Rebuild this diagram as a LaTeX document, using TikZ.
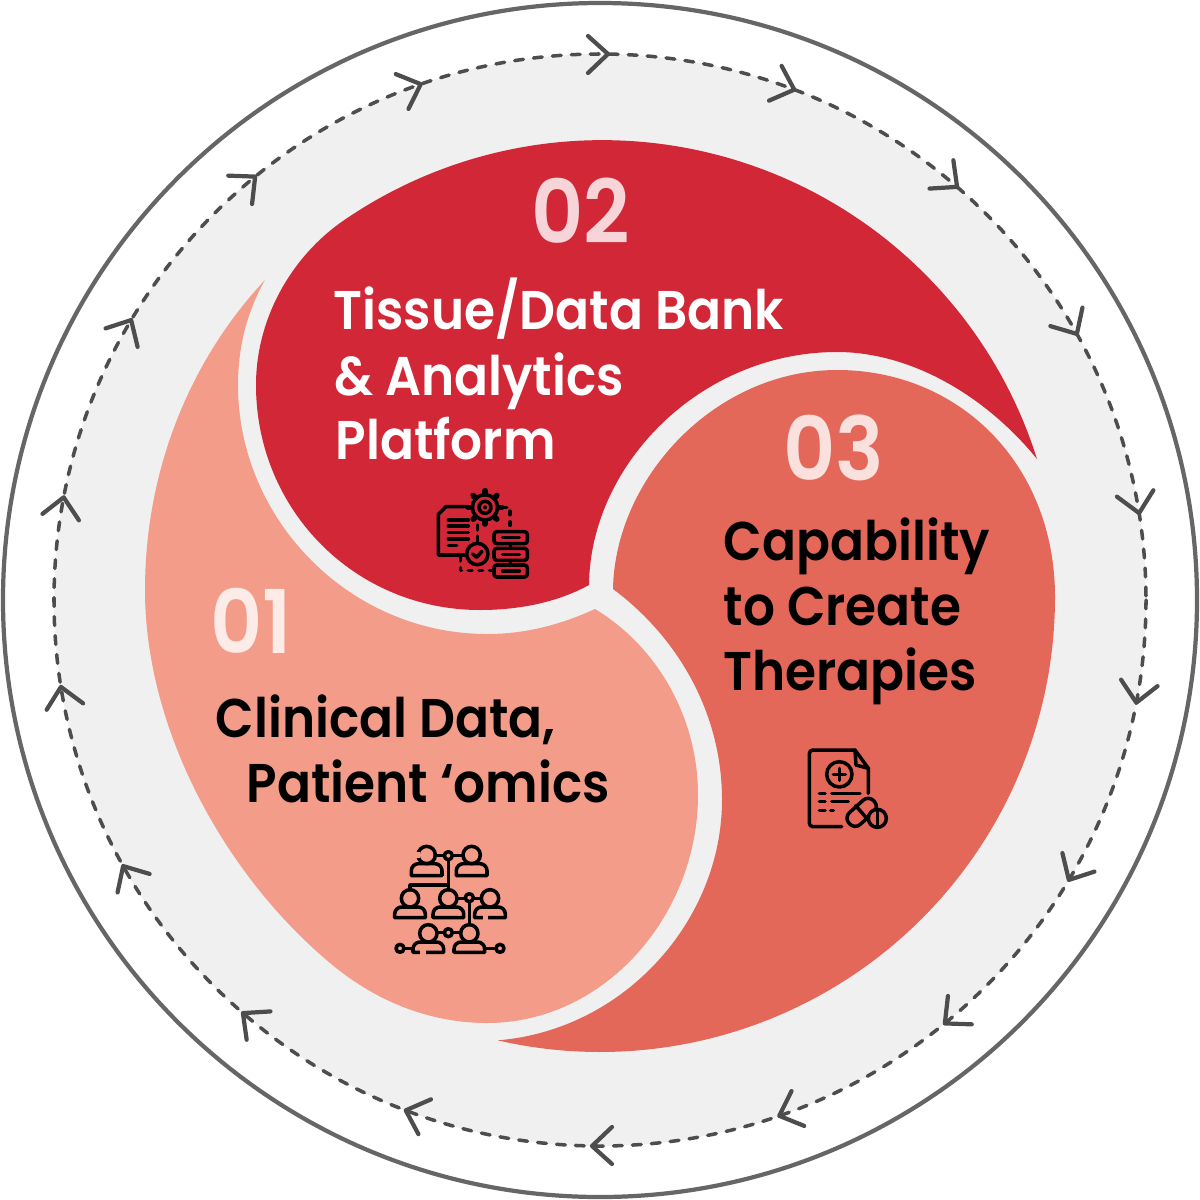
\documentclass[tikz,border=0pt]{standalone}
\usepackage{xcolor}
\usepackage{fontspec}
\usepackage{tikz}
\setmainfont{Poppins}
\newfontfamily\labelfont[FakeStretch=0.92]{Poppins SemiBold}
\newfontfamily\numfont[FakeStretch=0.92]{Poppins SemiBold}
\definecolor{ringgrey}{HTML}{666666}
\definecolor{dashgrey}{HTML}{4D4D4D}
\definecolor{discgrey}{HTML}{F0F0F0}
\definecolor{bladeone}{HTML}{F39C89}
\definecolor{bladetwo}{HTML}{D12736}
\definecolor{bladethree}{HTML}{E4685A}
\tikzset{
  numlabel/.style={anchor=base west, inner sep=0pt, font=\numfont\fontsize{25}{25}\selectfont},
  bladetext/.style={anchor=base west, inner sep=0pt, font=\labelfont\fontsize{15.5}{15.5}\selectfont},
  headline/.style={dashgrey, line width=1.2pt, line cap=round, line join=round},
  iconline/.style={black, line width=1pt, line cap=round, line join=round},
}
\newcommand{\person}[3]{% head x, head y, bottom y
  \draw[iconline] (#1,#2) circle (26);
  \draw[iconline] (#1-46,#3) [rounded corners=2pt] -- (#1-46,#2+26) -- (#1+46,#2+26) [sharp corners] -- (#1+46,#3) -- cycle;
}
\begin{document}
\begin{tikzpicture}[x=0.01cm, y=-0.01cm]
\useasboundingbox (0,0) rectangle (1200,1200);
% rings
\draw[ringgrey, line width=1.2pt] (600,600) circle (597);
\draw[dashgrey, fill=discgrey, line width=1pt, line cap=round, dash pattern=on 2.5pt off 2.9pt] (600,600) circle (546);
\foreach \i in {0,...,17} {
  \draw[headline, rotate around={\i*20:(600,600)}] (588,36) -- (608,54) -- (588,73);
}
% blades
\fill[bladetwo] (1037,459) arc (-17.5:-124.7:456)
  .. controls (290,258) and (256,320) .. (256,385)
  .. controls (256,510) and (355,610) .. (480,610)
  .. controls (520,610) and (558,602) .. (589,585)
  .. controls (590,465) and (700,352) .. (837,352)
  .. controls (910,352) and (985,395) .. (1037,459) -- cycle;
\fill[bladethree] (613,589) .. controls (615,478) and (715,370) .. (837,370)
  .. controls (960,370) and (1055,465) .. (1055,597)
  arc (0:103:455)
  .. controls (625,1030) and (722,920) .. (722,800)
  .. controls (722,710) and (675,635) .. (613,589) -- cycle;
\fill[bladeone] (265,280) .. controls (190,360) and (145,470) .. (145,590)
  .. controls (145,730) and (225,875) .. (330,963)
  .. controls (380,1005) and (435,1023) .. (487,1023)
  .. controls (605,1023) and (698,915) .. (698,795)
  .. controls (698,715) and (655,645) .. (595,609)
  .. controls (560,625) and (525,634) .. (487,634)
  .. controls (350,634) and (238,520) .. (238,385)
  .. controls (238,345) and (248,310) .. (265,280) -- cycle;
% labels
\node[numlabel, text=white!80!bladetwo] (numtwo) at (531,243) {02};
\node[numlabel, text=white!80!bladethree] (numthree) at (783,480) {03};
\node[numlabel, text=white!80!bladeone] (numone) at (210,653) {01};
\node[bladetext, text=white] (tissue) at (333,329) {Tissue/Data Bank};
\node[bladetext, text=white] (analytics) at (334,395) {\& Analytics};
\node[bladetext, text=white] (platform) at (335,459) {Platform};
\node[bladetext] (capability) at (723,560) {Capability};
\node[bladetext] (create) at (723,625) {to Create};
\node[bladetext] (therapies) at (723,690) {Therapies};
\node[bladetext] (clinical) at (215,737) {Clinical Data,};
\node[bladetext] (patient) at (246,802) {Patient ‘omics};
% icon platform
\begin{scope}[shift={(420,470)}, scale=1/3]
\draw[iconline] (140,110) -- (78,110) -- (55,133) -- (55,255) -- (135,255);
\foreach \y/\e in {150/145,168/145,187/145,207/145,226/110} {
  \draw[iconline] (85,\y) -- (\e,\y);
}
\draw[iconline] (195,112) circle (38);
\draw[iconline] (195,112) circle (18);
\fill (195,112) circle (6);
\foreach \t in {0,45,...,315} {
  \draw[iconline, line width=1.6pt] (195,112) ++(\t:40) -- ++(\t:10);
}
\draw[iconline] (172,165) -- (172,180);
\draw[iconline] (172,198) -- (172,218);
\draw[iconline] (172,252) circle (32);
\draw[iconline] (158,252) -- (170,262) -- (186,244);
\draw[iconline, dash pattern=on 1pt off 2pt] (250,112) -- (270,112) -- (270,182);
\draw[iconline, dash pattern=on 1pt off 2pt] (122,262) -- (122,302) -- (222,302);
\foreach \y in {185,235,285} {
  \draw[iconline, rounded corners=0.8pt] (222,\y) rectangle (322,\y+36);
  \draw[iconline] (248,\y+18) -- (298,\y+18);
}
\draw[iconline] (272,221) -- (272,235) (272,271) -- (272,285);
\end{scope}
% icon therapies
\begin{scope}[shift={(790,735)}, scale=1/3]
\draw[iconline, rounded corners=1pt] (195,45) -- (58,45) -- (58,275) -- (155,275);
\draw[iconline] (195,45) -- (235,100) -- (235,175);
\draw[iconline] (195,45) -- (198,90) -- (235,100);
\draw[iconline] (148,118) circle (38);
\draw[iconline] (130,118) -- (166,118) (148,100) -- (148,136);
\draw[iconline] (88,175) -- (105,175) (125,175) -- (210,175);
\draw[iconline] (88,200) -- (105,200) (125,200) -- (175,200);
\draw[iconline] (88,227) -- (105,227) (122,227) -- (130,227);
\draw[iconline, rounded corners=2.1pt, rotate around={42:(215,232)}] (165,208) rectangle (265,256);
\draw[iconline] (197,212) -- (232,252);
\draw[iconline, fill=bladethree] (262,250) circle (27);
\draw[iconline] (262,225) -- (262,275);
\end{scope}
% icon patients
\begin{scope}[shift={(380,835)}, scale=1/3]
\person{140}{60}{122}
\person{275}{60}{122}
\person{90}{190}{248}
\person{205}{190}{248}
\person{330}{190}{248}
\person{145}{295}{352}
\person{268}{295}{352}
\draw[bladeone, line width=1.3pt] (112,52) -- (112,68) (120,352) -- (138,352) (308,248) -- (324,248);
\draw[iconline] (166,62) -- (192,62) (218,62) -- (249,62);
\draw[iconline] (205,62) circle (12);
\draw[iconline] (205,75) -- (205,150) -- (90,150) -- (90,164) (205,150) -- (205,164);
\draw[iconline] (231,190) -- (255,190) (280,190) -- (304,190);
\draw[iconline] (268,188) circle (12);
\draw[iconline] (268,200) -- (268,269);
\draw[iconline] (205,293) circle (12);
\draw[iconline] (171,293) -- (193,293) (218,293) -- (242,293);
\draw[iconline] (60,340) circle (12);
\draw[iconline] (72,340) -- (98,340);
\draw[iconline] (360,340) circle (12);
\draw[iconline] (314,340) -- (348,340);
\end{scope}
\end{tikzpicture}
\end{document}
